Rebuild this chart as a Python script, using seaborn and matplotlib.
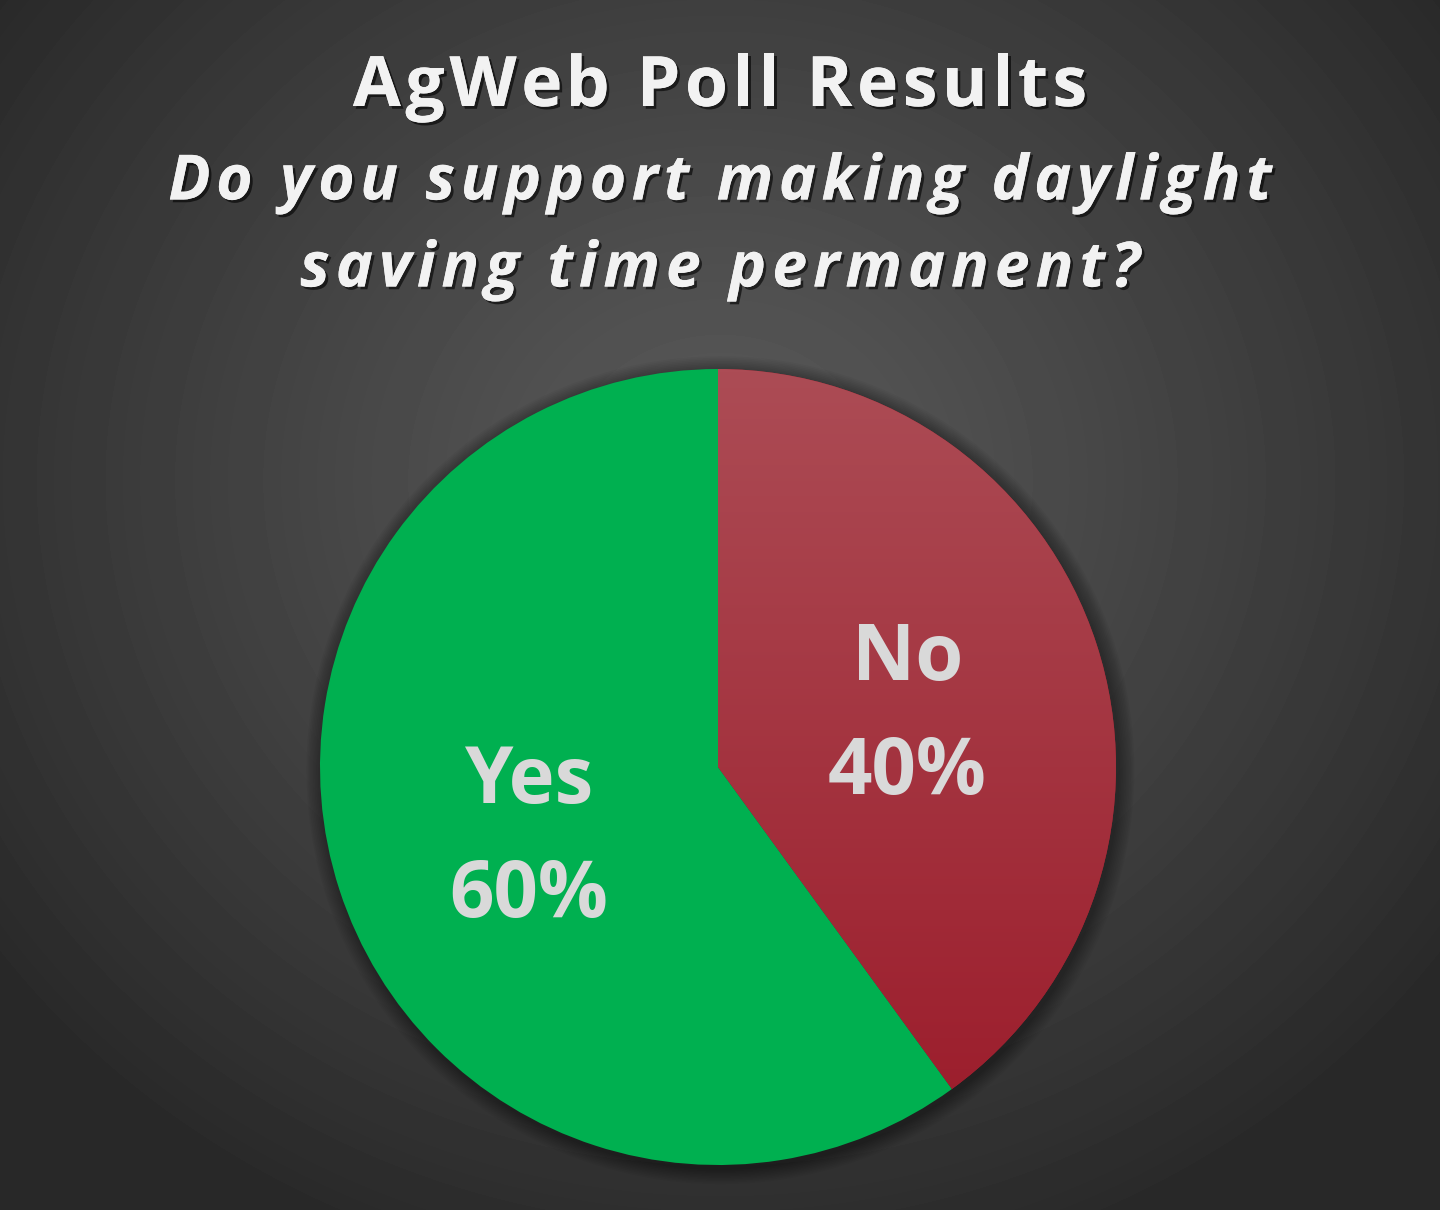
import numpy as np
import seaborn as sns
import matplotlib.pyplot as plt
import matplotlib.patheffects as pe
from matplotlib.colors import LinearSegmentedColormap

# poll data
answers = ["No", "Yes"]
shares = [40, 60]
title = "AgWeb Poll Results"
question = ["Do you support making daylight", "saving time permanent?"]

sns.set_theme(style="dark")
plt.rcParams["font.family"] = ["Open Sans", "DejaVu Sans"]

W, H = 1440, 1210
fig = plt.figure(figsize=(W / 100, H / 100), dpi=100)
renderer = fig.canvas.get_renderer()

# radial gradient background
bg = fig.add_axes([0, 0, 1, 1])
yy, xx = np.mgrid[0:H, 0:W]
r = np.sqrt(((xx - 720) / 900.0) ** 2 + ((yy - 480) / 820.0) ** 2)
shade = 0x5a / 255 - (0x5a - 0x29) / 255 * np.clip(r, 0, 1) ** 1.1
bg.imshow(shade, cmap="gray", vmin=0, vmax=1, extent=[0, W, H, 0], aspect="auto")
bg.set_axis_off()

shadow = [pe.withSimplePatchShadow(offset=(2, -2), shadow_rgbFace="black", alpha=0.6), pe.Normal()]


def text_width(s, **kw):
    t = fig.text(0, 0, s, **kw)
    w = t.get_window_extent(renderer).width
    t.remove()
    return w


def spaced_text(s, y_px, tracking, **kw):
    # draw a line char by char to get the wide letter spacing of the original
    ref_w = text_width("l", **kw)
    starts = [text_width(s[:i] + "l", **kw) - ref_w if i else 0.0 for i in range(len(s))]
    total = text_width(s, **kw) + tracking * (len(s) - 1)
    x0 = W / 2 - total / 2
    for i, ch in enumerate(s):
        if ch == " ":
            continue
        fig.text((x0 + starts[i] + tracking * i) / W, 1 - y_px / H, ch, ha="left", va="center",
                 path_effects=shadow, **kw)


title_kw = dict(color="#f2f2f2", fontsize=50, fontweight="bold")
sub_kw = dict(color="#f2f2f2", fontsize=45, fontweight="bold", fontstyle="italic")
spaced_text(title, 88, 4.6, **title_kw)
spaced_text(question[0], 183, 5.6, **sub_kw)
spaced_text(question[1], 270, 6.0, **sub_kw)

# pie
cx, cy, rad = 718, 767, 398
ax = fig.add_axes([(cx - rad) / W, (H - cy - rad) / H, 2 * rad / W, 2 * rad / H])
ax.set_facecolor("none")

# soft shadow around the pie
for k in range(10):
    circ = plt.Circle((0.006, -0.008), 1.0 + 0.004 * (k + 1), color="black", alpha=0.035,
                      zorder=0, clip_on=False, linewidth=0)
    ax.add_patch(circ)

colors = ["#a42030", "#00b050"]
wedges, texts, autotexts = ax.pie(
    shares, labels=None, colors=colors, startangle=90, counterclock=False,
    autopct=lambda p: "", pctdistance=0.5, radius=1.0,
    wedgeprops=dict(linewidth=0),
)

# gradient fill for the red wedge
red_cmap = LinearSegmentedColormap.from_list("red", ["#9b1a29", "#ac4c55"])
grad = np.linspace(0, 1, 256).reshape(-1, 1)
im = ax.imshow(grad, cmap=red_cmap, extent=[-1, 1, -1, 1], origin="lower", aspect="auto", zorder=2)
im.set_clip_path(wedges[0])

for w, t, name, val in zip(wedges, autotexts, answers, shares):
    w.set_zorder(1)
    t.set_text(f"{name}\n{val}%")
    t.set_color("#d9d9d9")
    t.set_fontsize(56)
    t.set_fontweight("bold")
    t.set_linespacing(1.58)
    t.set_zorder(3)
    t.set_y(t.get_position()[1] - 0.027)

ax.set_xlim(-1, 1)
ax.set_ylim(-1, 1)
ax.set_aspect("equal")
ax.set_axis_off()

fig.savefig("out.png", dpi=100)
